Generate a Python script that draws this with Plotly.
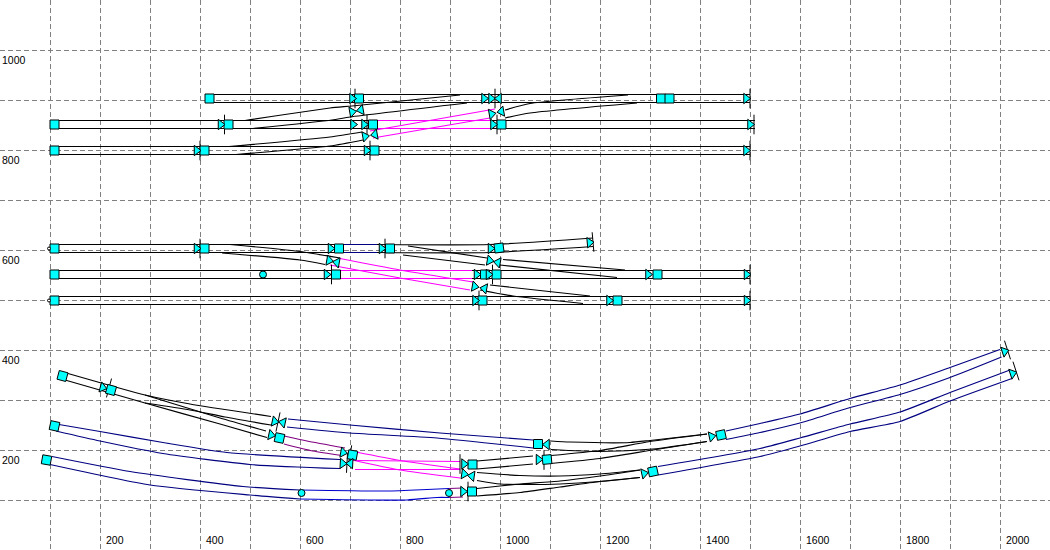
import plotly.graph_objects as go

# rail polylines as (x, y) in layout units
black_rails = [
    # straight rows
    ([410, 1500], [911, 911]), ([410, 1500], [895, 895]),
    ([100, 750], [859, 859]), ([100, 750], [843, 843]),
    ([980, 1510], [859, 859]), ([980, 1510], [843, 843]),
    ([100, 1500], [807, 807]), ([100, 1500], [791, 791]),
    ([100, 686], [611, 611]), ([100, 686], [595, 595]),
    ([754, 980, 1186], [611, 611, 624]), ([754, 980, 1186], [595, 595, 607]),
    ([100, 680], [559, 559]), ([100, 680], [543, 543]),
    ([944, 1500], [559, 559]), ([944, 1500], [543, 543]),
    ([100, 1500], [507, 507]), ([100, 1500], [491, 491]),
    # top block turnouts
    ([490, 660, 704, 920], [859, 884, 888, 910]),
    ([506, 664, 700, 934], [843, 860, 866, 894]),
    ([458, 660, 724], [807, 826, 836]),
    ([472, 660, 726], [791, 808, 820]),
    ([1010, 1060, 1256], [880, 893, 910]),
    ([1010, 1060, 1274], [864, 874, 894]),
    # middle block turnouts
    ([460, 600, 680], [611, 597, 584]),
    ([444, 600, 650], [594, 580, 571]),
    ([816, 974], [608, 584]),
    ([806, 970], [590, 570]),
    ([1006, 1250], [581, 560]),
    ([1000, 1234], [570, 545]),
    ([980, 1180], [530, 508]),
    ([960, 1026, 1166], [520, 508, 493]),
    # curved block
    ([136, 290, 380, 542], [353, 310, 292, 267]),
    ([130, 290, 440, 534], [340, 294, 252, 225]),
    ([290, 440, 532], [310, 264, 238]),
    ([290, 380, 450, 542], [294, 280, 266, 250]),
    ([954, 1066], [178, 188]),
    ([954, 1066], [162, 172]),
    ([1102, 1200, 1300, 1414], [189, 199, 217, 232]),
    ([1102, 1200, 1306, 1414], [173, 183, 200, 217]),
    ([1102, 1140, 1260, 1300, 1414], [218, 216, 215, 219, 232]),
    ([1102, 1200, 1306, 1414], [201, 197, 202, 217]),
    ([954, 1040, 1120, 1200, 1280], [155, 149, 148, 152, 160]),
    ([954, 1000, 1040, 1120, 1200, 1280], [139, 132, 131, 132, 137, 145]),
    ([954, 1000, 1040, 1120, 1200, 1280], [123, 128, 132, 138, 148, 160]),
    ([954, 1040, 1120, 1200, 1280], [108, 115, 126, 137, 145]),
]
navy_rails = [
    ([686, 754], [611, 611]), ([686, 754], [595, 595]),
    ([576, 700, 880, 1066], [262, 250, 234, 220]),
    ([574, 700, 874, 1066], [246, 234, 224, 204]),
    ([118, 200, 326, 454, 680], [251, 237, 215, 195, 181]),
    ([112, 200, 326, 500, 680], [238, 218, 193, 171, 163]),
    ([104, 260, 486, 600], [187, 157, 127, 120]),
    ([100, 300, 500, 600], [171, 130, 110, 102]),
    ([1452, 1520, 1600, 1700, 1800, 1900, 2000], [238, 253, 272, 303, 330, 365, 401]),
    ([1452, 1520, 1600, 1700, 1800, 1900, 2003], [221, 235, 254, 285, 311, 345, 386]),
    ([1316, 1520, 1600, 1700, 1800, 1900, 2020], [167, 203, 224, 252, 276, 315, 360]),
    ([1316, 1520, 1600, 1700, 1800, 1900, 2024], [150, 187, 208, 237, 257, 298, 343]),
]
blue_rails = [
    ([600, 774, 854, 898], [120, 118, 121, 123]),
    ([600, 814, 874, 898], [102, 100, 105, 105]),
]
purple_rails = [
    ([568, 614, 690], [228, 218, 204]),
    ([568, 626, 684], [212, 198, 189]),
    ([898, 926], [123, 124]),
    ([898, 926], [105, 106]),
]
magenta_rails = [
    ([750, 980], [859, 859]), ([750, 980], [843, 843]),
    ([740, 990], [838, 882]), ([746, 980], [824, 864]),
    ([680, 944], [559, 559]), ([680, 944], [543, 543]),
    ([680, 800, 946], [583, 560, 536]),
    ([660, 800, 940], [570, 544, 520]),
    ([710, 920], [179, 177]), ([710, 920], [161, 161]),
    ([712, 800, 920], [196, 179, 162]),
    ([704, 800, 920], [180, 160, 144]),
]

square_x = [419, 718, 1322, 1339, 109, 457, 746, 1003, 109, 409, 749,
            109, 409, 678, 780, 998, 109, 672, 970, 993, 1315, 109, 965, 1235,
            125, 222, 109, 93, 559, 705, 945, 944, 1076, 1094, 1306, 1442]
square_y = [903, 903, 903, 903, 851, 851, 851, 851, 799, 799, 799,
            603, 603, 603, 603, 604, 551, 551, 551, 551, 551, 499, 499, 499,
            348, 320, 248, 180, 224, 190, 171, 117, 212, 181, 157, 230]
square_angle = [0, 0, 0, 0, 0, 0, 0, 0, 0, 0, 0,
                0, 0, 0, 0, -8, 0, 0, 0, 0, 0, 0, 0, 0,
                15, 15, 12, 10, 12, 10, 0, 0, 0, -5, -12, -12]

tri_right_x = [704, 968, 982, 1492, 441, 706, 728, 986, 1500, 393, 733, 1492,
               393, 661, 763, 981, 1179, 653, 953, 977, 1296, 1493, 950, 1218, 1493,
               704, 730, 983, 658, 949, 979,
               205, 549, 542, 686, 685, 928, 928, 926, 1077, 1423, 1288, 2009, 2025]
tri_right_y = [903, 903, 903, 903, 851, 851, 851, 851, 851, 799, 799, 799,
               603, 603, 603, 603, 615, 551, 551, 551, 551, 551, 499, 499, 499,
               876, 827, 872, 579, 527, 579,
               325, 257, 230, 195, 173, 172, 152, 117, 181, 227, 153, 397, 353]
tri_right_angle = [0, 0, 0, 0, 0, 0, 0, 0, 0, 0, 0, 0,
                   0, 0, 0, 0, -5, 0, 0, 0, 0, 0, 0, 0, 0,
                   -10, -10, -10, 10, 10, 10,
                   15, 12, 12, 10, 3, 0, 8, 0, 0, -12, -12, -18, -18]

tri_left_x = [998, 722, 750, 1003, 674, 969, 996, 566, 701, 944, 1094]
tri_left_y = [903, 880, 831, 877, 575, 523, 575, 255, 173, 148, 211]
tri_left_angle = [0, -10, -10, -10, 10, 10, 10, 12, 3, 8, 0]

tick_x = [710, 990, 1500, 449, 734, 994, 1508, 400, 740, 1500,
          400, 770, 663, 985, 1500, 958, 1500, 1186,
          218, 556, 700, 694, 920, 936, 1088, 2015, 2032]
tick_y = [903, 903, 903, 851, 851, 851, 851, 799, 799, 799,
          603, 603, 551, 551, 551, 499, 499, 616,
          324, 256, 190, 174, 172, 117, 180, 400, 358]
tick_angle = [0, 0, 0, 0, 0, 0, 0, 0, 0, 0,
              0, 0, 0, 0, 0, 0, 0, -5,
              15, 12, 10, 3, 0, 0, 0, -18, -18]

signal_x = [526, 603, 898]
signal_y = [551, 114, 114]
stop_x = [98, 98]
stop_y = [603, 499]

x_labels = [200, 400, 600, 800, 1000, 1200, 1400, 1600, 1800, 2000]
y_labels = [200, 400, 600, 800, 1000]

CYAN = '#00ffff'
fig = go.Figure()

for rails, color in [(navy_rails, '#000080'), (blue_rails, '#0000cd'), (purple_rails, '#800080'),
                     (magenta_rails, '#ff00ff'), (black_rails, '#000000')]:
    for xs, ys in rails:
        fig.add_trace(go.Scatter(x=xs, y=ys, mode='lines',
                                 line=dict(color=color, width=1.2, shape='spline', smoothing=0.6)))


def add_markers(xs, ys, symbol, size, angle=0, color=CYAN):
    fig.add_trace(go.Scatter(x=xs, y=ys, mode='markers',
                             marker=dict(symbol=symbol, size=size, angle=angle, color=color,
                                         line=dict(color='#000000', width=1))))


add_markers(tick_x, tick_y, 'line-ns', 14, tick_angle)
add_markers(square_x, square_y, 'square', 9, square_angle)
add_markers(tri_right_x, tri_right_y, 'triangle-right', 9, tri_right_angle)
add_markers(tri_left_x, tri_left_y, 'triangle-left', 9, tri_left_angle)
add_markers(signal_x, signal_y, 'circle', 7)
add_markers(stop_x, stop_y, 'circle', 3, color='#ffffff')

label_font = dict(family='Liberation Sans', size=10.5, color='#000000')
for v in x_labels:
    fig.add_annotation(x=v, y=20, text=str(v), showarrow=False, xanchor='left', xshift=4, font=label_font)
for v in y_labels:
    fig.add_annotation(x=0, y=v, text=str(v), showarrow=False, xanchor='left', yshift=-10, font=label_font)

grid = dict(showgrid=True, gridcolor='#808080', griddash='5px,3px', gridwidth=1, tick0=0, dtick=100,
            showticklabels=False, ticks='', zeroline=False, showline=False)
fig.update_xaxes(range=[0, 2100], **grid)
fig.update_yaxes(range=[0, 1100], **grid)
fig.update_layout(width=1050, height=550, margin=dict(l=0, r=0, t=0, b=0), showlegend=False,
                  plot_bgcolor='#ffffff', paper_bgcolor='#ffffff', hovermode=False)

fig.write_html("out.html", config={'displayModeBar': False},
               post_script="document.body.style.margin = '0';")
